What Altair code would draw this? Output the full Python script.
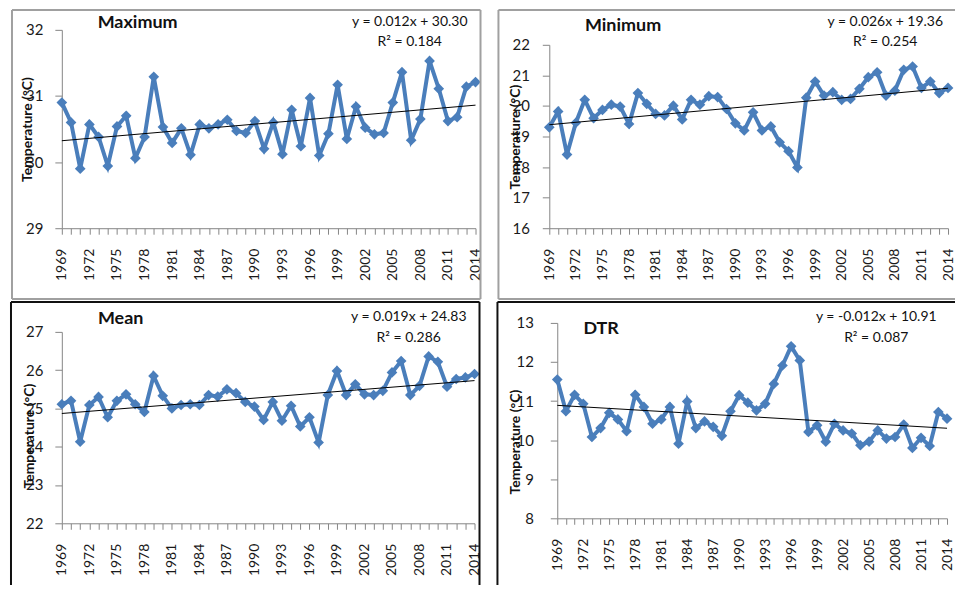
import altair as alt
import pandas as pd

years = list(range(1969, 2015))

tmax = [30.90, 30.60, 29.90, 30.57, 30.38, 29.94, 30.54, 30.70, 30.06, 30.38,
        31.29, 30.53, 30.29, 30.51, 30.11, 30.57, 30.51, 30.57, 30.64, 30.47,
        30.44, 30.62, 30.20, 30.60, 30.12, 30.79, 30.24, 30.97, 30.10, 30.43,
        31.17, 30.35, 30.84, 30.52, 30.42, 30.44, 30.90, 31.36, 30.33, 30.65,
        31.53, 31.11, 30.62, 30.68, 31.14, 31.21]

tmin = [19.30, 19.82, 18.41, 19.45, 20.20, 19.60, 19.87, 20.04, 19.98, 19.41,
        20.42, 20.07, 19.74, 19.69, 20.01, 19.56, 20.20, 20.04, 20.32, 20.29,
        19.90, 19.43, 19.20, 19.79, 19.20, 19.33, 18.81, 18.52, 17.99, 20.27,
        20.80, 20.34, 20.45, 20.20, 20.23, 20.56, 20.94, 21.10, 20.34, 20.50,
        21.18, 21.29, 20.59, 20.80, 20.42, 20.59]

tmean = [25.11, 25.20, 24.13, 25.09, 25.30, 24.77, 25.20, 25.37, 25.11, 24.91,
         25.85, 25.33, 25.00, 25.09, 25.11, 25.09, 25.35, 25.31, 25.50, 25.40,
         25.17, 25.05, 24.70, 25.17, 24.68, 25.07, 24.53, 24.77, 24.11, 25.35,
         25.98, 25.35, 25.63, 25.37, 25.35, 25.46, 25.94, 26.24, 25.35, 25.59,
         26.36, 26.22, 25.57, 25.77, 25.81, 25.90]

dtr = [11.55, 10.74, 11.16, 10.93, 10.08, 10.31, 10.70, 10.53, 10.23, 11.16,
       10.85, 10.42, 10.53, 10.85, 9.91, 10.99, 10.31, 10.48, 10.34, 10.11,
       10.74, 11.15, 10.96, 10.76, 10.93, 11.44, 11.91, 12.40, 12.04, 10.21,
       10.38, 9.96, 10.42, 10.25, 10.17, 9.87, 9.96, 10.25, 10.04, 10.08,
       10.40, 9.80, 10.06, 9.85, 10.72, 10.55]

panel_names = ["Maximum", "Minimum", "Mean", "DTR"]
y_domains = [[29, 32], [16, 22], [22, 27], [8, 13]]
equations = ["y = 0.012x + 30.30", "y = 0.026x + 19.36", "y = 0.019x + 24.83", "y = -0.012x + 10.91"]
r_squared = ["R\u00b2 = 0.184", "R\u00b2 = 0.254", "R\u00b2 = 0.286", "R\u00b2 = 0.087"]

FONT = "Lato"
BLUE = "#4A7EBB"
AXIS_GREY = "#868686"


def one(text):
    return pd.DataFrame({"t": [text]})


def panel(values, name, ydom, eq, r2, W, H, g):
    df = pd.DataFrame({"year": years, "value": values})
    xenc = alt.X(
        "year:Q",
        scale=alt.Scale(domain=[1969, 2014], nice=False, zero=False),
        axis=alt.Axis(
            values=years, format="d",
            labelExpr="(datum.value - 1969) % 3 == 0 ? datum.label : ''",
            labelAngle=270, labelOverlap=False, labelFlush=False,
            labelFont=FONT, labelFontSize=14, labelColor="#1a1a1a",
            labelPadding=14, tickSize=6, tickColor=AXIS_GREY,
            domainColor=AXIS_GREY, grid=False, title=None,
        ),
    )
    yscale = alt.Scale(domain=ydom, nice=False, zero=False)
    if g.get("yrange"):
        yscale = alt.Scale(domain=ydom, nice=False, zero=False, range=g["yrange"])
    yenc = alt.Y(
        "value:Q",
        scale=yscale,
        axis=alt.Axis(
            values=list(range(ydom[0], ydom[1] + 1)), format="d",
            labelFont=FONT, labelFontSize=15, labelColor="#1a1a1a",
            labelPadding=g["lp"], tickSize=7, tickColor=AXIS_GREY,
            domainColor=AXIS_GREY, grid=False,
            title="Temperature (\u00b0C)", titleFont=FONT, titleFontSize=14,
            titleFontWeight="bold", titleColor="#111111", titleAngle=270,
            titleAlign="center", titleBaseline="middle",
            titleX=g["tx"], titleY=g["ty"],
        ),
    )
    base = alt.Chart(df)
    line = base.mark_line(color=BLUE, strokeWidth=4).encode(x=xenc, y=yenc)
    pts = base.mark_point(shape="diamond", filled=True, size=115, opacity=1,
                          color=BLUE).encode(x=xenc, y=yenc)
    trend = base.transform_regression("year", "value").mark_line(
        color="black", strokeWidth=1).encode(x=xenc, y=yenc)

    ttl = alt.Chart(one(name)).mark_text(
        font=FONT, fontSize=18, fontWeight="bold", color="#111111",
        align="center", baseline="middle").encode(
        text="t:N", x=alt.value(g["title"][0]), y=alt.value(g["title"][1]))
    e1 = alt.Chart(one(eq)).mark_text(
        font=FONT, fontSize=14, color="#111111", align="center",
        baseline="middle").encode(
        text="t:N", x=alt.value(W + g["eqx"]), y=alt.value(g["eqy"][0]))
    e2 = alt.Chart(one(r2)).mark_text(
        font=FONT, fontSize=14, color="#111111", align="center",
        baseline="middle").encode(
        text="t:N", x=alt.value(W + g["eqx"]), y=alt.value(g["eqy"][1]))

    layers = [line, pts, trend, ttl, e1, e2]
    b = g["border"]
    col = g["bcolor"]
    L, T, R, B = b["L"], b["T"], b["R"], b["B"]
    layers.append(alt.Chart(one("l")).mark_rule(color=col, strokeWidth=2).encode(
        x=alt.value(L), y=alt.value(T), y2=alt.value(B)))
    layers.append(alt.Chart(one("t")).mark_rule(color=col, strokeWidth=2).encode(
        x=alt.value(L), x2=alt.value(R), y=alt.value(T)))
    if b.get("right"):
        layers.append(alt.Chart(one("r")).mark_rule(color=col, strokeWidth=2).encode(
            x=alt.value(R), y=alt.value(T), y2=alt.value(B)))
    if b.get("bottom"):
        layers.append(alt.Chart(one("b")).mark_rule(color=col, strokeWidth=2).encode(
            x=alt.value(L), x2=alt.value(R), y=alt.value(B)))
    return alt.layer(*layers).properties(width=W, height=H)


TOP_GREY = "#A0A0A0"
DARK = "#111111"

# top row: group origin at the Maximum plot top; Minimum data area starts 15px lower
p_max = panel(tmax, panel_names[0], y_domains[0], equations[0], r_squared[0], 415, 199, {
    "lp": 12, "tx": -34, "ty": 99.5, "title": (76, -7), "eqx": -66, "eqy": (-8, 12),
    "bcolor": TOP_GREY,
    "border": {"L": -50, "T": -20, "R": 420, "B": 270, "right": True, "bottom": True}})

p_min = panel(tmin, panel_names[1], y_domains[1], equations[1], r_squared[1], 400, 199, {
    "yrange": [199, 15],
    "lp": 13, "tx": -34, "ty": 107, "title": (74, -4), "eqx": -63, "eqy": (-8, 12),
    "bcolor": TOP_GREY,
    "border": {"L": -51, "T": -20, "R": 407, "B": 270, "right": False, "bottom": True}})

# bottom row: group origin at the DTR plot top; Mean data area starts 9px lower
p_mean = panel(tmean, panel_names[2], y_domains[2], equations[2], r_squared[2], 414, 201, {
    "yrange": [201, 9],
    "lp": 12, "tx": -32, "ty": 113, "title": (59, -4), "eqx": -66, "eqy": (-6, 15),
    "bcolor": DARK,
    "border": {"L": -51, "T": -21, "R": 419, "B": 263, "right": True, "bottom": False}})

p_dtr = panel(dtr, panel_names[3], y_domains[3], equations[3], r_squared[3], 391, 196, {
    "lp": 17, "tx": -42, "ty": 119, "title": (44, 6), "eqx": -71, "eqy": (-6, 15),
    "bcolor": DARK,
    "border": {"L": -60, "T": -21, "R": 399, "B": 263, "right": False, "bottom": False}})

chart = alt.vconcat(
    alt.hconcat(p_max, p_min, spacing=14),
    alt.hconcat(p_mean, p_dtr, spacing=14),
    spacing=1,
).properties(
    padding={"left": 2, "top": 0, "right": 0, "bottom": 0},
    background="white",
).configure_view(strokeWidth=0)

chart.save("out.html", embed_options={"renderer": "svg", "actions": False})
